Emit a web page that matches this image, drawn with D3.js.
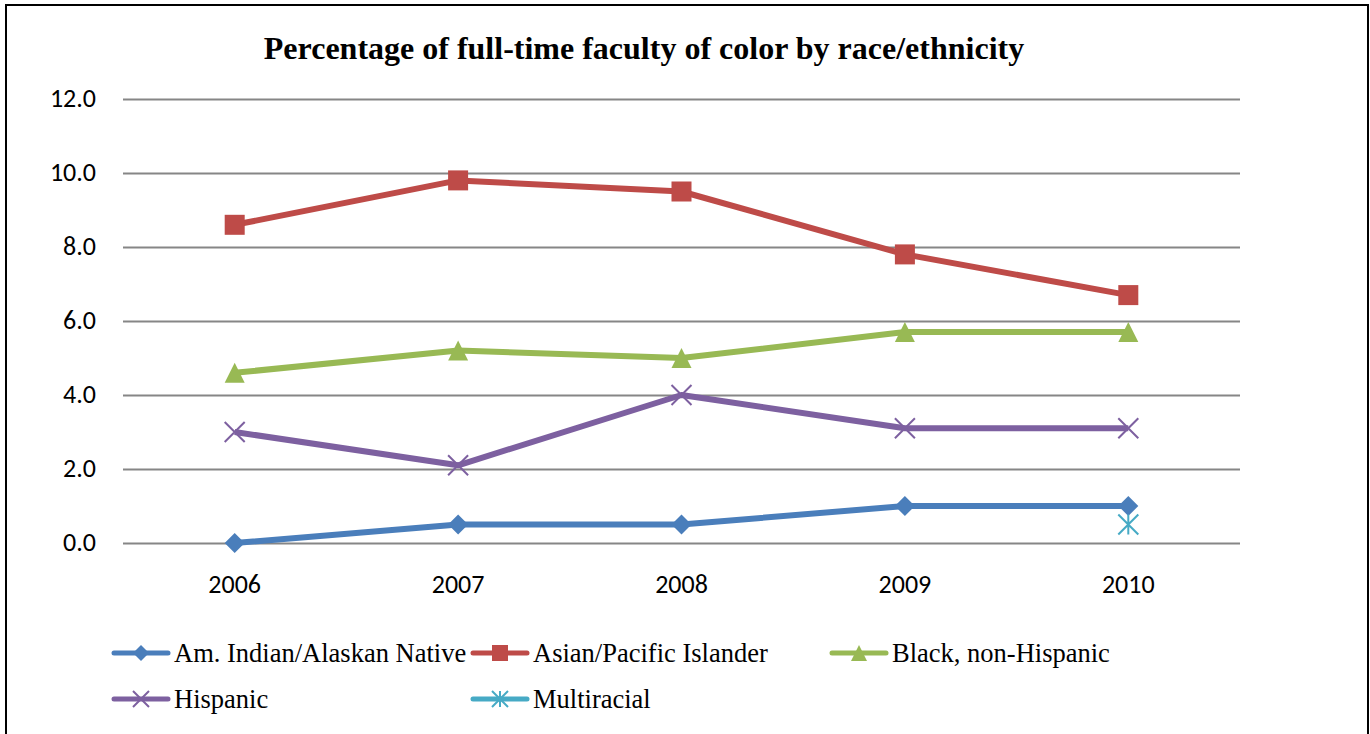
<!DOCTYPE html>
<html>
<head>
<meta charset="utf-8">
<script src="https://cdn.jsdelivr.net/npm/d3@7/dist/d3.min.js"></script>
<style>
  html, body { margin: 0; padding: 0; background: #fff; }
  svg { display: block; }
</style>
</head>
<body>
<svg id="chart" width="1370" height="734"></svg>
<script>
// Faculty of color, share of full-time faculty (%)
const years = ["2006", "2007", "2008", "2009", "2010"];
const amIndian = [0.0, 0.5, 0.5, 1.0, 1.0];
const asianPacific = [8.6, 9.8, 9.5, 7.8, 6.7];
const blackNonHispanic = [4.6, 5.2, 5.0, 5.7, 5.7];
const hispanic = [3.0, 2.1, 4.0, 3.1, 3.1];
const multiracial = [null, null, null, null, 0.5];
const yTicks = [0, 2, 4, 6, 8, 10, 12];

const series = [
  { name: "Am. Indian/Alaskan Native", values: amIndian, color: "#4A7EBB", marker: "diamond" },
  { name: "Asian/Pacific Islander", values: asianPacific, color: "#BE4B48", marker: "square" },
  { name: "Black, non-Hispanic", values: blackNonHispanic, color: "#98B954", marker: "triangle" },
  { name: "Hispanic", values: hispanic, color: "#7D60A0", marker: "x" },
  { name: "Multiracial", values: multiracial, color: "#46AAC5", marker: "star" }
];

const sansFont = "Carlito, Calibri, 'Open Sans', 'Liberation Sans', sans-serif";
const serifFont = "'Liberation Serif', 'Times New Roman', serif";

const svg = d3.select("#chart");

// outer frame
svg.append("rect")
  .attr("x", 6).attr("y", 5)
  .attr("width", 1362).attr("height", 740)
  .attr("fill", "none").attr("stroke", "#000").attr("stroke-width", 2);

const plot = { left: 123, right: 1240, top: 99, bottom: 543 };

const x = d3.scaleBand().domain(years).range([plot.left, plot.right]);
const y = d3.scaleLinear().domain([0, 12]).range([plot.bottom, plot.top]);
const cx = d => x(d) + x.bandwidth() / 2;

// title
svg.append("text")
  .attr("x", 644).attr("y", 59)
  .attr("text-anchor", "middle")
  .attr("font-family", serifFont)
  .attr("font-weight", "bold")
  .attr("font-size", 32)
  .attr("fill", "#000")
  .text("Percentage of full-time faculty of color by race/ethnicity");

// horizontal gridlines + y labels
const yAxis = svg.append("g")
  .attr("transform", `translate(${plot.left},0)`)
  .call(d3.axisLeft(y).tickValues(yTicks).tickFormat(d3.format(".1f"))
    .tickSize(-(plot.right - plot.left)).tickPadding(27));
yAxis.select(".domain").remove();
yAxis.selectAll(".tick line").attr("stroke", "#868686").attr("stroke-width", 2);
yAxis.selectAll(".tick text")
  .attr("font-family", sansFont)
  .attr("font-size", 26).attr("fill", "#000")
  .attr("dy", "0.3em");

// x labels
const xAxis = svg.append("g")
  .attr("transform", `translate(0,${plot.bottom})`)
  .call(d3.axisBottom(x).tickSize(0).tickPadding(32));
xAxis.select(".domain").remove();
xAxis.selectAll(".tick text")
  .attr("font-family", sansFont)
  .attr("font-size", 26).attr("fill", "#000");

// marker drawing
function drawMarker(g, type, color, px, py, scale = 1) {
  const r = 10 * scale;
  if (type === "diamond") {
    g.append("path")
      .attr("d", `M${px},${py - r}L${px + r},${py}L${px},${py + r}L${px - r},${py}Z`)
      .attr("fill", color);
  } else if (type === "square") {
    g.append("rect").attr("x", px - r).attr("y", py - r)
      .attr("width", 2 * r).attr("height", 2 * r).attr("fill", color);
  } else if (type === "triangle") {
    g.append("path")
      .attr("d", `M${px},${py - r}L${px + r},${py + r}L${px - r},${py + r}Z`)
      .attr("fill", color);
  } else if (type === "x") {
    g.append("path")
      .attr("d", `M${px - r},${py - r}L${px + r},${py + r}M${px - r},${py + r}L${px + r},${py - r}`)
      .attr("stroke", color).attr("stroke-width", 2).attr("fill", "none");
  } else if (type === "star") {
    g.append("path")
      .attr("d", `M${px - r},${py - r}L${px + r},${py + r}M${px - r},${py + r}L${px + r},${py - r}M${px},${py - r}L${px},${py + r}`)
      .attr("stroke", color).attr("stroke-width", 2).attr("fill", "none");
  }
}

// series lines and markers
const line = d3.line()
  .defined(d => d.v !== null)
  .x(d => cx(d.year))
  .y(d => y(d.v));

series.forEach(s => {
  const pts = years.map((yr, j) => ({ year: yr, v: s.values[j] }));
  const g = svg.append("g");
  g.append("path").datum(pts)
    .attr("d", line)
    .attr("fill", "none")
    .attr("stroke", s.color)
    .attr("stroke-width", 6)
    .attr("stroke-linejoin", "round");
  pts.filter(p => p.v !== null).forEach(p => drawMarker(g, s.marker, s.color, cx(p.year), y(p.v)));
});

// legend
const legendPos = [
  { x: 114, y: 653 }, { x: 473, y: 653 }, { x: 832, y: 653 },
  { x: 114, y: 699 }, { x: 473, y: 699 }
];
series.forEach((s, i) => {
  const p = legendPos[i];
  const g = svg.append("g");
  g.append("line")
    .attr("x1", p.x).attr("x2", p.x + 54)
    .attr("y1", p.y).attr("y2", p.y)
    .attr("stroke", s.color).attr("stroke-width", 5).attr("stroke-linecap", "round");
  drawMarker(g, s.marker, s.color, p.x + 27, p.y, 0.8);
  g.append("text")
    .attr("x", p.x + 60).attr("y", p.y + 9)
    .attr("font-family", serifFont)
    .attr("font-size", 26.5).attr("fill", "#000")
    .text(s.name);
});
</script>
</body>
</html>
